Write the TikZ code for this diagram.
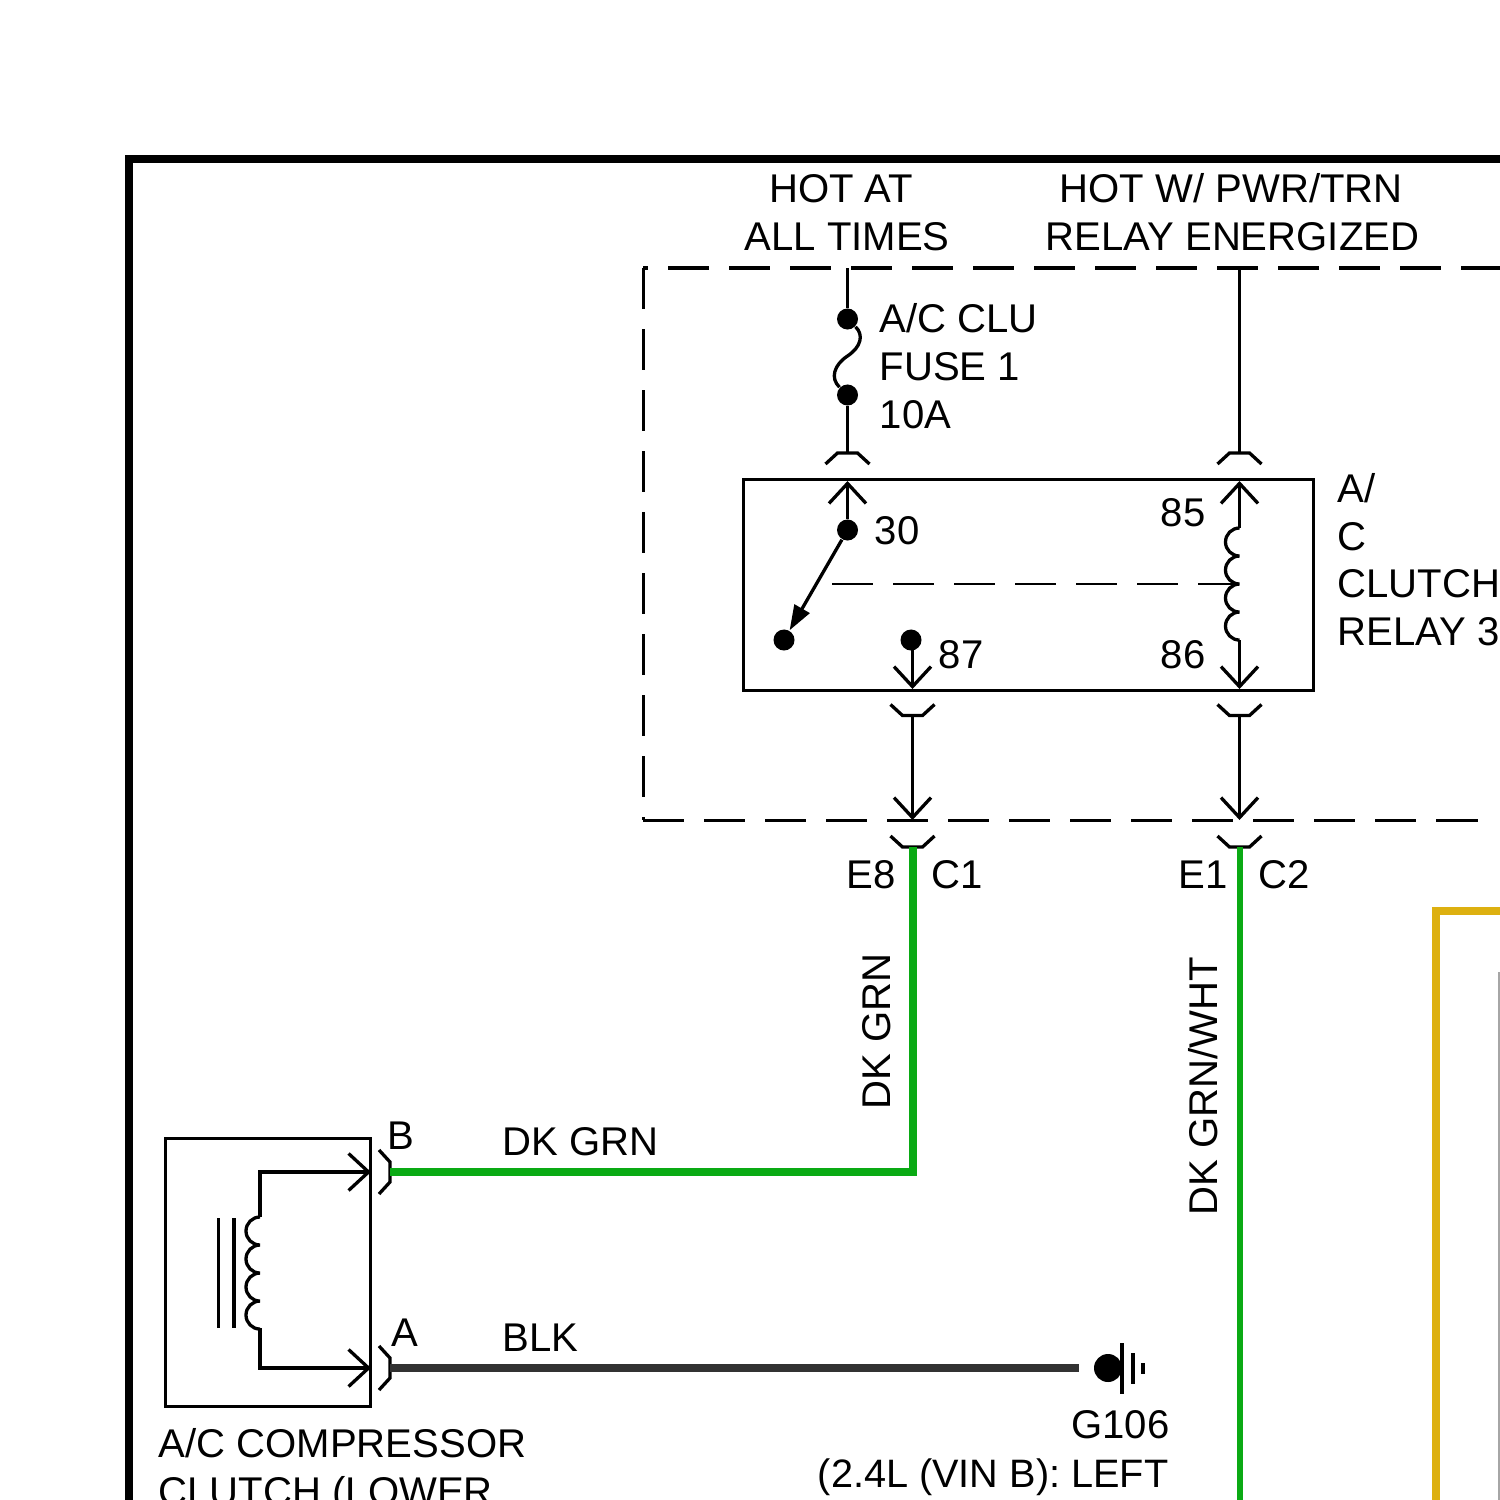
\documentclass[tikz,border=0pt]{standalone}
\usepackage{fontspec}
\setmainfont{Liberation Sans}
\usetikzlibrary{arrows.meta}

\definecolor{wireGreen}{RGB}{10,170,20}
\definecolor{wireBlack}{RGB}{50,50,50}
\definecolor{wireYellow}{RGB}{221,176,16}

\tikzset{
  pics/jack/.style={code={\draw[wire] (-22,11) -- (-10,0) -- (10,0) -- (22,11);}},
  wire/.style={line width=.033cm,black},
  bigWire/.style={line width=.08cm},
  boundary/.style={line width=.03cm,dash pattern=on .41cm off .2cm},
  dot/.style={circle,fill=black,inner sep=0pt,minimum size=.21cm},
  txt/.style={anchor=base west,inner sep=0pt,font=\fontsize{11.4}{13.7}\selectfont},
  coilArc/.style={start angle=90,delta angle=180,radius=.14cm}
}

\begin{document}
\begin{tikzpicture}[x=.01cm,y=-.01cm,>={Straight Barb[length=.2cm,width=.37cm]}]
    \useasboundingbox (0,0) rectangle (1500,1500);
    \clip (0,0) rectangle (1500,1500);

    % frame and wires running off the page
    \coordinate (frameRight) at (1520,159);
    \coordinate (frameCorner) at (129,159);
    \coordinate (frameBottom) at (129,1520);
    \draw[line width=.08cm,line join=miter] (frameRight) -- (frameCorner) -- (frameBottom);
    \coordinate (yellowRight) at (1520,911);
    \coordinate (yellowCorner) at (1436,911);
    \coordinate (yellowBottom) at (1436,1520);
    \draw[bigWire,wireYellow] (yellowRight) -- (yellowCorner) -- (yellowBottom);
    \coordinate (greyTop) at (1499,972);
    \coordinate (greyBottom) at (1499,1520);
    \draw[line width=.03cm,black!35] (greyTop) -- (greyBottom);

    % fuse block outline
    \coordinate (blockTL) at (643,268);
    \coordinate (blockTR) at (1520,268);
    \coordinate (blockBL) at (643,820);
    \coordinate (blockBR) at (1490,820);
    \draw[boundary,dash phase=.36cm] (blockTL) -- (blockTR);
    \draw[boundary] (blockBL) -- (blockBR);
    \draw[boundary] (blockTL) -- (blockBL);

    % relay
    \node[draw,line width=.03cm,inner sep=0pt,minimum width=5.69cm,minimum height=2.1cm] (relay) at (1028.5,585) {};

    \coordinate (fuseIn) at (847.5,268);
    \coordinate (fuseOut) at (847.5,453);
    \node[dot] (fuseTop) at (847.5,319) {};
    \node[dot] (fuseBot) at (847.5,395) {};
    \draw[wire] (fuseIn) -- (fuseTop);
    \draw[wire] (fuseBot) -- (fuseOut);
    \draw[wire] (fuseTop) .. controls (864,335) and (861,347) .. (847.5,356) .. controls (834,365) and (830,378) .. (fuseBot);
    \pic at (fuseOut) {jack};

    \coordinate (pin30Tip) at (847.5,481);
    \node[dot] (pin30) at (847.5,530) {};
    \node[dot] (swEnd) at (784,640) {};
    \draw[wire,->] (pin30) -- (pin30Tip);
    \draw[wire,-{Stealth[length=.25cm,width=.17cm,inset=0pt]}] (pin30) -- (swEnd);

    \node[dot] (pin87) at (911,640) {};
    \coordinate (pin87Tail) at (912.5,648);
    \coordinate (pin87Tip) at (912.5,689);
    \draw[wire,->] (pin87Tail) -- (pin87Tip);

    \coordinate (coilIn) at (1239.5,268);
    \coordinate (coilJack) at (1239.5,453);
    \coordinate (pin85Tip) at (1239.5,481);
    \coordinate (coilTop) at (1239.5,528);
    \coordinate (coilBot) at (1239.5,640);
    \coordinate (pin86Tip) at (1239.5,689);
    \coordinate (coilMid) at (1239.5,584);
    \coordinate (coreLeft) at (832,584);
    \draw[wire] (coilIn) -- (coilJack);
    \pic at (coilJack) {jack};
    \draw[wire,->] (coilTop) -- (pin85Tip);
    \draw[wire,->] (coilBot) -- (pin86Tip);
    \draw[wire,line join=bevel] (coilTop) arc[coilArc] arc[coilArc] arc[coilArc] arc[coilArc];
    \draw[line width=.015cm,dash pattern=on .41cm off .2cm] (coreLeft) -- (coilMid);

    % outputs of the block
    \coordinate (e8Top) at (912.5,715.5);
    \coordinate (e8Tip) at (912.5,820);
    \coordinate (e8Jack) at (912.5,847);
    \coordinate (e1Top) at (1239.5,715.5);
    \coordinate (e1Tip) at (1239.5,820);
    \coordinate (e1Jack) at (1239.5,847);
    \pic[yscale=-1] at (e8Top) {jack};
    \pic[yscale=-1] at (e8Jack) {jack};
    \pic[yscale=-1] at (e1Top) {jack};
    \pic[yscale=-1] at (e1Jack) {jack};
    \draw[wire,->] (e8Top) -- (e8Tip);
    \draw[wire,->] (e1Top) -- (e1Tip);

    % compressor clutch
    \node[draw,line width=.03cm,inner sep=0pt,minimum width=2.05cm,minimum height=2.68cm] (clutch) at (268,1272.5) {};
    \coordinate (clutchB) at (390,1172);
    \coordinate (clutchA) at (390,1368);
    \coordinate (clutchBTip) at (371,1172);
    \coordinate (clutchATip) at (371,1368);
    \coordinate (clutchBCorner) at (260,1172);
    \coordinate (clutchACorner) at (260,1368);
    \coordinate (clutchCoilTop) at (260,1217);
    \coordinate (clutchCoilBot) at (260,1328);
    \draw[wire,->] (clutchCoilTop) -- (clutchBCorner) -- (clutchBTip);
    \draw[wire,->] (clutchCoilBot) -- (clutchACorner) -- (clutchATip);
    \draw[wire,line join=bevel] (clutchCoilTop) arc[coilArc] arc[coilArc] arc[coilArc] arc[coilArc];
    \coordinate (core1Top) at (218.5,1218);
    \coordinate (core1Bot) at (218.5,1328);
    \coordinate (core2Top) at (234,1218);
    \coordinate (core2Bot) at (234,1328);
    \draw[wire] (core1Top) -- (core1Bot);
    \draw[wire] (core2Top) -- (core2Bot);
    \pic[rotate=-90] at (clutchB) {jack};
    \pic[rotate=-90] at (clutchA) {jack};

    % coloured wires
    \coordinate (grnCorner) at (912.5,1172);
    \coordinate (e1Bottom) at (1239.5,1520);
    \coordinate (blkEnd) at (1079,1368);
    \draw[bigWire,wireGreen,line join=miter] (clutchB) -- (grnCorner) -- (e8Jack);
    \draw[line width=.06cm,wireGreen] (e1Jack) -- (e1Bottom);
    \draw[bigWire,wireBlack] (clutchA) -- (blkEnd);

    % ground
    \node[circle,fill=black,inner sep=0pt,minimum size=.28cm] (gndDot) at (1108,1368) {};
    \coordinate (gnd1Top) at (1122,1343);
    \coordinate (gnd1Bot) at (1122,1394);
    \coordinate (gnd2Top) at (1133,1353);
    \coordinate (gnd2Bot) at (1133,1384);
    \coordinate (gnd3Top) at (1143,1363);
    \coordinate (gnd3Bot) at (1143,1374);
    \draw[wire] (gnd1Top) -- (gnd1Bot);
    \draw[wire] (gnd2Top) -- (gnd2Bot);
    \draw[wire] (gnd3Top) -- (gnd3Bot);

    % labels
    \node[txt] (hotAt) at (768.5,202.6) {HOT AT};
    \node[txt] (allTimes) at (744,251) {ALL TIMES};
    \node[txt] (hotPwr) at (1059,202.6) {HOT W/ PWR/TRN};
    \node[txt] (relayEn) at (1045,251) {RELAY ENERGIZED};
    \node[txt] (fuseA) at (879,332) {A/C CLU};
    \node[txt] (fuseB) at (879,380) {FUSE 1};
    \node[txt] (fuseC) at (879,428) {10A};
    \node[txt] (relayA) at (1337,502) {A/};
    \node[txt] (relayB) at (1337,550) {C};
    \node[txt] (relayC) at (1337,597) {CLUTCH};
    \node[txt] (relayD) at (1337,645) {RELAY 3};
    \node[txt] (lab30) at (874,544) {30};
    \node[txt] (lab85) at (1160,526) {85};
    \node[txt] (lab86) at (1160,668) {86};
    \node[txt] (lab87) at (938,668) {87};
    \node[txt] (labE8) at (846,888) {E8};
    \node[txt] (labC1) at (931,888) {C1};
    \node[txt] (labE1) at (1178,888) {E1};
    \node[txt] (labC2) at (1258,888) {C2};
    \node[txt,rotate=90] (grnV) at (890,1110) {DK GRN};
    \node[txt,rotate=90] (grnWht) at (1217,1216) {DK GRN/WHT};
    \node[txt] (grnH) at (502,1155) {DK GRN};
    \node[txt] (blkH) at (502,1351.5) {BLK};
    \node[txt] (labB) at (387,1149) {B};
    \node[txt] (labA) at (391,1346.5) {A};
    \node[txt,anchor=base east] (g106) at (1170,1438) {G106};
    \node[txt,anchor=base east,font=\fontsize{11.28}{13.7}\selectfont] (gndLeft) at (1169,1487.5) {(2.4L (VIN B): LEFT};
    \node[txt] (compA) at (158,1457) {A/C COMPRESSOR};
    \node[txt] (compB) at (158,1505) {CLUTCH (LOWER};
\end{tikzpicture}
\end{document}
